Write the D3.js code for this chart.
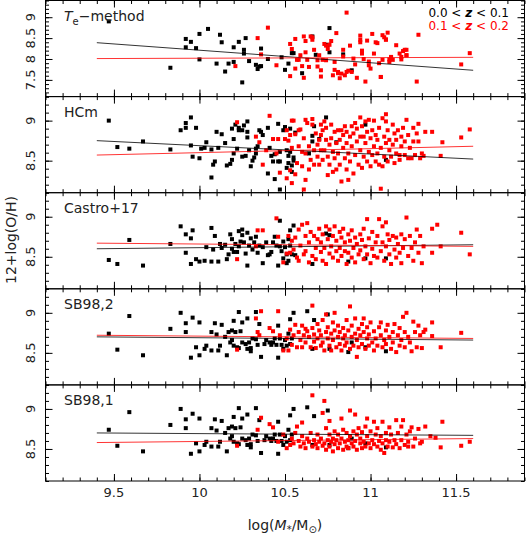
<!DOCTYPE html>
<html>
<head>
<meta charset="utf-8">
<script src="https://cdn.jsdelivr.net/npm/d3@7"></script>
<style>
  body { margin: 0; background: #fff; }
  text { font-family: "DejaVu Sans", sans-serif; fill: #222; }
</style>
</head>
<body>
<svg id="chart" width="528" height="535"></svg>
<script>
// panels, top to bottom
var panelNames = ["Te-method", "HCm", "Castro+17", "SB98,2", "SB98,1"];
var yDomains = [[7.1, 9.4], [8.1, 9.3], [8.1, 9.3], [8.1, 9.3], [8.1, 9.3]];
var yTickLabels = [[7.5, 8, 8.5, 9], [8.5, 9], [8.5, 9], [8.5, 9], [8.5, 9]];
var xTickLabels = [9.5, 10, 10.5, 11, 11.5];
var legendText = ["0.0 < z < 0.1", "0.1 < z < 0.2"];

// linear fits, value at logM = 9.4 and 11.6
var fitRange = [9.4, 11.6];
var fitBlack = [[8.39, 7.73], [8.75, 8.52], [8.60, 8.65], [8.70, 8.66], [8.70, 8.67]];
var fitRed = [[8.01, 8.04], [8.57, 8.68], [8.67, 8.63], [8.72, 8.68], [8.58, 8.63]];

// 0.0 < z < 0.1 (black), 0.1 < z < 0.2 (red)  -- [logM, 12+log(O/H)]
var teBlack = [[9.47,8.90],[9.83,7.79],[9.92,8.48],[9.92,8.28],[9.95,8.41],[9.98,8.26],[10.00,8.60],[10.00,7.99],[10.05,8.72],[10.10,7.89],[10.12,8.58],[10.13,8.40],[10.15,7.70],[10.17,7.89],[10.20,8.28],[10.20,7.93],[10.23,8.41],[10.25,7.44],[10.26,8.22],[10.26,8.13],[10.27,8.50],[10.29,7.95],[10.33,7.86],[10.34,7.76],[10.35,7.82],[10.36,7.83],[10.36,8.25],[10.40,8.00],[10.48,8.04],[10.50,7.74],[10.52,7.89],[10.54,8.14],[10.55,8.14],[10.60,7.66],[10.66,8.54],[10.68,8.10],[10.75,8.34],[10.76,8.74],[10.76,8.16],[10.84,8.11],[10.89,7.73]];
var teRed = [[10.21,7.83],[10.34,8.50],[10.36,8.11],[10.40,8.75],[10.45,7.85],[10.53,7.59],[10.53,8.36],[10.54,8.24],[10.56,8.48],[10.56,7.77],[10.57,7.98],[10.58,7.98],[10.59,8.09],[10.60,7.83],[10.61,7.55],[10.61,8.54],[10.62,8.16],[10.62,8.43],[10.63,7.98],[10.64,7.81],[10.65,8.54],[10.66,8.52],[10.66,8.46],[10.67,8.22],[10.69,7.97],[10.69,7.82],[10.70,8.09],[10.71,7.73],[10.71,7.58],[10.72,7.98],[10.73,8.36],[10.74,8.32],[10.75,8.24],[10.74,7.97],[10.76,8.34],[10.77,8.43],[10.78,7.61],[10.79,7.74],[10.79,7.93],[10.80,8.62],[10.81,7.69],[10.81,7.66],[10.82,7.54],[10.83,7.65],[10.84,8.22],[10.84,8.06],[10.85,7.61],[10.86,7.69],[10.86,9.11],[10.87,7.72],[10.88,8.32],[10.89,7.69],[10.90,8.01],[10.91,7.87],[10.92,7.55],[10.94,8.56],[10.94,8.40],[10.94,8.46],[10.95,8.13],[10.95,8.20],[10.96,8.00],[10.97,7.46],[10.98,8.44],[10.99,7.94],[10.99,7.85],[11.00,7.77],[11.01,8.60],[11.02,8.13],[11.03,8.40],[11.04,8.38],[11.05,7.90],[11.06,7.57],[11.06,7.57],[11.07,8.57],[11.07,7.98],[11.08,8.52],[11.09,8.46],[11.09,8.47],[11.10,8.63],[11.11,7.99],[11.11,7.93],[11.12,8.05],[11.12,8.03],[11.13,7.98],[11.15,8.33],[11.17,8.13],[11.18,7.99],[11.18,8.05],[11.19,8.19],[11.20,8.22],[11.21,8.22],[11.21,8.09],[11.21,8.09],[11.27,7.46],[11.28,8.58],[11.53,7.87],[11.58,8.14]];

var hcmBlack = [[9.47,9.00],[9.52,8.67],[9.59,8.65],[9.67,8.74],[9.83,8.64],[9.89,8.88],[9.92,8.91],[9.92,8.97],[9.95,9.04],[9.98,8.91],[9.95,8.69],[9.96,8.55],[10.00,8.53],[10.01,8.65],[10.03,8.66],[10.04,8.73],[10.07,8.29],[10.08,8.45],[10.09,8.49],[10.07,8.64],[10.10,8.86],[10.11,8.66],[10.13,8.83],[10.15,8.72],[10.16,8.44],[10.18,8.46],[10.19,8.51],[10.19,8.90],[10.20,8.77],[10.20,8.59],[10.21,8.95],[10.22,8.65],[10.23,8.88],[10.23,8.91],[10.25,8.88],[10.25,8.55],[10.26,8.94],[10.27,8.56],[10.28,8.99],[10.28,8.86],[10.28,8.79],[10.29,8.63],[10.30,8.43],[10.31,8.50],[10.32,8.54],[10.33,8.59],[10.33,8.65],[10.34,8.68],[10.35,8.88],[10.36,8.86],[10.37,8.82],[10.40,8.91],[10.40,8.34],[10.41,8.66],[10.42,8.56],[10.43,8.49],[10.44,8.27],[10.44,8.58],[10.46,8.96],[10.46,8.49],[10.47,8.14],[10.47,8.49],[10.47,8.61],[10.49,8.88],[10.50,8.90],[10.50,8.92],[10.51,8.41],[10.51,8.63],[10.52,8.56],[10.52,8.47],[10.53,8.90],[10.53,8.61],[10.54,8.36],[10.54,8.44],[10.55,8.54],[10.55,8.50],[10.56,8.85],[10.64,8.59],[10.66,8.81],[10.66,8.74],[10.67,8.93],[10.70,8.77],[10.74,9.04],[10.80,8.73],[10.97,8.95],[11.09,8.51]];
var hcmRed = [[10.22,8.98],[10.41,9.06],[10.33,8.80],[10.35,8.73],[10.37,8.45],[10.39,8.63],[10.43,8.77],[10.45,8.59],[10.46,8.77],[10.47,8.35],[10.50,8.77],[10.51,8.88],[10.51,8.28],[10.52,8.75],[10.53,8.38],[10.53,8.82],[10.54,9.00],[10.54,8.22],[10.54,8.66],[10.55,9.00],[10.56,8.33],[10.56,8.83],[10.57,8.47],[10.58,8.68],[10.58,8.88],[10.59,8.89],[10.60,8.43],[10.60,8.61],[10.61,8.14],[10.61,8.78],[10.62,8.59],[10.62,9.01],[10.62,8.26],[10.63,8.97],[10.64,8.68],[10.64,8.39],[10.65,8.51],[10.66,9.02],[10.66,8.95],[10.67,8.63],[10.67,8.45],[10.68,8.84],[10.69,8.70],[10.69,8.55],[10.70,8.76],[10.70,8.45],[10.71,8.63],[10.71,8.95],[10.71,8.82],[10.72,8.51],[10.72,8.88],[10.73,8.99],[10.73,8.63],[10.74,8.76],[10.74,8.91],[10.75,8.55],[10.75,8.32],[10.76,8.70],[10.76,8.45],[10.77,8.95],[10.77,8.78],[10.78,8.61],[10.78,8.36],[10.79,8.86],[10.79,8.53],[10.80,8.72],[10.80,8.39],[10.81,8.88],[10.81,8.59],[10.82,8.76],[10.82,8.45],[10.83,8.24],[10.83,8.88],[10.84,8.66],[10.84,8.82],[10.85,8.53],[10.85,8.93],[10.86,8.39],[10.86,8.72],[10.86,8.86],[10.87,8.59],[10.87,8.26],[10.88,8.80],[10.88,8.49],[10.89,8.93],[10.89,8.68],[10.90,8.84],[10.90,8.34],[10.91,8.97],[10.91,8.57],[10.92,8.74],[10.92,8.90],[10.93,8.45],[10.94,8.80],[10.94,9.04],[10.94,8.63],[10.95,8.93],[10.95,8.41],[10.96,8.80],[10.96,8.55],[10.97,8.99],[10.97,8.72],[10.98,8.49],[10.98,8.86],[10.99,8.61],[10.99,9.01],[11.00,8.78],[11.00,8.43],[11.01,8.57],[11.01,8.88],[11.02,8.68],[11.02,9.00],[11.03,8.49],[11.03,8.82],[11.04,8.59],[11.04,8.76],[11.05,8.45],[11.05,8.91],[11.06,8.15],[11.06,8.66],[11.07,9.03],[11.07,8.43],[11.08,8.80],[11.08,8.55],[11.09,8.99],[11.09,8.72],[11.09,9.08],[11.10,8.49],[11.10,8.88],[11.11,8.63],[11.11,8.76],[11.12,8.55],[11.13,8.95],[11.13,8.70],[11.14,8.84],[11.14,8.47],[11.15,8.59],[11.15,8.76],[11.16,8.88],[11.17,8.57],[11.17,8.51],[11.18,8.80],[11.18,8.68],[11.19,8.91],[11.20,8.57],[11.20,8.74],[11.21,9.01],[11.22,8.53],[11.22,8.82],[11.23,8.66],[11.24,8.53],[11.25,8.91],[11.25,8.74],[11.26,8.57],[11.27,8.84],[11.28,8.96],[11.28,8.74],[11.29,8.53],[11.30,8.59],[11.31,8.56],[11.32,8.86],[11.36,8.86],[11.41,8.56],[11.42,8.73],[11.53,8.79],[11.58,8.89]];

var castroBlack = [[9.47,8.46],[9.52,8.41],[9.59,8.71],[9.67,8.39],[9.83,8.66],[9.89,8.88],[9.92,8.55],[9.92,8.78],[9.95,8.73],[9.95,8.41],[9.96,8.83],[9.98,8.47],[10.00,8.44],[10.03,8.45],[10.04,8.62],[10.07,8.86],[10.07,8.44],[10.08,8.59],[10.09,8.76],[10.11,8.44],[10.12,8.66],[10.13,8.61],[10.15,8.65],[10.16,8.47],[10.17,8.53],[10.18,8.78],[10.19,8.60],[10.19,8.72],[10.20,8.56],[10.21,8.66],[10.22,8.56],[10.23,8.82],[10.23,8.63],[10.24,8.69],[10.25,8.84],[10.25,8.77],[10.26,8.68],[10.27,8.54],[10.28,8.80],[10.28,8.39],[10.29,8.64],[10.30,8.73],[10.31,8.59],[10.32,8.68],[10.33,8.75],[10.34,8.55],[10.35,8.64],[10.37,8.42],[10.37,8.62],[10.39,8.68],[10.40,8.52],[10.41,8.53],[10.42,8.56],[10.43,8.68],[10.44,8.75],[10.45,8.64],[10.46,8.39],[10.47,8.95],[10.47,8.63],[10.48,8.57],[10.49,8.48],[10.49,8.69],[10.50,8.62],[10.51,8.53],[10.51,8.42],[10.52,8.72],[10.52,8.45],[10.53,8.83],[10.53,8.64],[10.54,8.53],[10.55,8.89],[10.56,8.52],[10.66,8.41],[10.74,8.79],[10.76,8.77],[10.87,8.44],[10.97,8.48],[11.09,8.48]];
var castroRed = [[10.34,8.83],[10.37,8.83],[10.22,8.47],[10.33,8.63],[10.45,8.98],[10.46,8.75],[10.49,8.43],[10.51,8.54],[10.52,8.76],[10.53,8.55],[10.54,8.70],[10.55,8.59],[10.56,8.74],[10.57,8.49],[10.58,8.84],[10.58,8.45],[10.59,8.64],[10.60,8.90],[10.61,8.53],[10.62,8.76],[10.62,8.57],[10.63,8.92],[10.64,8.43],[10.64,8.68],[10.65,8.81],[10.66,8.51],[10.67,8.76],[10.68,8.61],[10.68,8.47],[10.69,8.72],[10.70,8.85],[10.71,8.56],[10.71,8.68],[10.72,8.45],[10.72,8.78],[10.73,8.61],[10.74,8.88],[10.74,8.41],[10.75,8.72],[10.76,8.54],[10.76,8.84],[10.77,8.63],[10.78,8.49],[10.78,8.76],[10.79,8.88],[10.80,8.57],[10.80,8.70],[10.81,8.45],[10.82,8.81],[10.82,8.61],[10.83,8.51],[10.83,8.74],[10.84,8.85],[10.85,8.57],[10.85,8.68],[10.86,8.41],[10.87,8.78],[10.87,8.55],[10.88,8.70],[10.89,8.49],[10.89,8.83],[10.90,8.61],[10.91,8.74],[10.91,8.43],[10.92,8.66],[10.93,8.53],[10.94,8.78],[10.94,8.58],[10.95,8.71],[10.96,8.47],[10.96,8.85],[10.97,8.63],[10.98,8.97],[10.98,8.53],[10.99,8.73],[11.00,8.42],[11.01,8.60],[11.01,8.81],[11.02,8.51],[11.03,8.68],[11.04,8.49],[11.04,8.76],[11.05,8.97],[11.06,8.57],[11.07,8.88],[11.07,8.68],[11.08,8.45],[11.09,8.93],[11.09,8.63],[11.10,8.78],[11.11,8.53],[11.11,8.71],[11.12,8.41],[11.13,8.76],[11.14,8.59],[11.15,8.49],[11.15,8.74],[11.16,8.66],[11.17,8.55],[11.18,8.42],[11.18,8.78],[11.19,8.61],[11.20,8.72],[11.21,8.99],[11.22,8.51],[11.23,8.76],[11.24,8.61],[11.25,8.45],[11.26,8.68],[11.27,8.84],[11.28,8.55],[11.29,8.76],[11.30,8.42],[11.31,8.63],[11.36,8.55],[11.36,8.85],[11.39,8.90],[11.41,8.63],[11.53,8.80],[11.58,8.53]];

var sb2Black = [[9.47,8.74],[9.52,8.54],[9.59,8.96],[9.67,8.47],[9.83,8.80],[9.89,9.00],[9.92,8.87],[9.92,8.76],[9.96,8.94],[9.95,8.44],[9.98,8.57],[10.00,8.88],[10.00,8.47],[10.03,8.55],[10.04,8.59],[10.07,8.76],[10.07,8.53],[10.09,8.87],[10.10,8.73],[10.11,8.53],[10.12,8.59],[10.13,8.85],[10.15,8.70],[10.16,8.47],[10.17,8.76],[10.18,8.63],[10.19,8.78],[10.19,8.66],[10.20,8.90],[10.20,8.59],[10.21,8.76],[10.22,8.57],[10.23,9.01],[10.23,8.56],[10.24,8.77],[10.25,8.88],[10.25,8.63],[10.27,8.61],[10.28,8.55],[10.28,8.93],[10.29,8.63],[10.30,8.56],[10.30,8.52],[10.31,8.68],[10.33,9.01],[10.33,8.67],[10.34,8.60],[10.35,8.86],[10.36,8.45],[10.38,8.61],[10.39,8.66],[10.41,8.63],[10.42,8.60],[10.43,8.63],[10.44,8.68],[10.45,8.60],[10.46,8.84],[10.46,8.44],[10.47,8.68],[10.48,8.60],[10.49,8.55],[10.50,8.66],[10.51,8.59],[10.52,8.74],[10.53,8.92],[10.53,8.61],[10.54,8.68],[10.55,9.00],[10.63,9.02],[10.66,8.55],[10.67,8.91],[10.75,8.98],[10.76,8.55],[10.87,8.51],[10.89,8.63],[10.97,8.57],[11.09,8.52]];
var sb2Red = [[10.22,8.54],[10.33,8.93],[10.36,9.02],[10.34,8.76],[10.35,8.72],[10.41,8.81],[10.43,8.77],[10.46,9.02],[10.47,8.72],[10.49,8.53],[10.51,8.68],[10.52,8.53],[10.53,8.79],[10.54,8.60],[10.55,8.72],[10.56,8.85],[10.57,8.57],[10.58,8.76],[10.59,8.66],[10.60,8.84],[10.60,8.57],[10.61,8.72],[10.62,8.80],[10.62,8.63],[10.63,8.77],[10.64,8.70],[10.65,8.57],[10.66,9.09],[10.66,8.81],[10.67,8.64],[10.67,8.73],[10.68,8.56],[10.69,8.86],[10.69,8.68],[10.70,8.78],[10.71,8.59],[10.71,8.72],[10.72,8.91],[10.72,8.63],[10.73,8.53],[10.74,8.76],[10.74,8.98],[10.75,8.68],[10.75,8.82],[10.76,8.59],[10.77,8.74],[10.77,8.53],[10.78,8.88],[10.78,8.66],[10.79,9.00],[10.79,8.78],[10.80,8.57],[10.81,8.70],[10.81,8.84],[10.82,8.61],[10.82,8.76],[10.83,8.53],[10.84,8.68],[10.84,8.81],[10.85,8.59],[10.85,8.72],[10.86,8.91],[10.86,8.63],[10.87,8.78],[10.88,8.55],[10.88,9.08],[10.89,8.70],[10.89,8.84],[10.90,8.59],[10.91,8.74],[10.91,8.93],[10.92,8.45],[10.92,8.66],[10.93,8.80],[10.93,8.57],[10.94,8.72],[10.95,8.86],[10.95,8.61],[10.96,8.76],[10.96,8.93],[10.97,8.55],[10.98,8.68],[10.98,8.82],[10.99,8.59],[10.99,8.73],[11.00,8.88],[11.01,8.63],[11.02,8.53],[11.02,8.77],[11.03,8.68],[11.04,8.59],[11.05,8.82],[11.06,8.72],[11.06,8.88],[11.07,8.57],[11.08,8.66],[11.09,8.78],[11.09,8.61],[11.10,8.85],[11.11,8.70],[11.12,8.55],[11.13,8.76],[11.13,8.63],[11.14,8.86],[11.15,8.51],[11.16,8.72],[11.17,8.59],[11.17,8.81],[11.18,8.66],[11.19,8.95],[11.20,8.76],[11.20,8.57],[11.21,9.00],[11.22,8.70],[11.23,8.63],[11.24,8.52],[11.25,8.89],[11.26,8.76],[11.27,8.57],[11.28,8.84],[11.29,8.72],[11.30,8.56],[11.31,8.76],[11.32,8.79],[11.36,8.88],[11.36,8.71],[11.41,8.57],[11.53,8.75]];

var sb1Black = [[9.47,8.74],[9.52,8.54],[9.59,8.96],[9.67,8.47],[9.83,8.80],[9.89,9.00],[9.92,8.87],[9.92,8.76],[9.96,8.94],[9.95,8.44],[9.98,8.57],[10.00,8.88],[10.00,8.47],[10.03,8.55],[10.04,8.59],[10.07,8.76],[10.07,8.53],[10.09,8.87],[10.10,8.73],[10.11,8.53],[10.12,8.59],[10.13,8.85],[10.15,8.70],[10.16,8.47],[10.17,8.76],[10.18,8.63],[10.19,8.78],[10.19,8.66],[10.20,8.90],[10.20,8.59],[10.21,8.76],[10.22,8.57],[10.23,9.01],[10.23,8.56],[10.24,8.77],[10.25,8.88],[10.25,8.63],[10.27,8.61],[10.28,8.55],[10.28,8.93],[10.29,8.63],[10.30,8.56],[10.30,8.52],[10.31,8.68],[10.33,9.01],[10.33,8.67],[10.34,8.60],[10.35,8.86],[10.36,8.45],[10.38,8.61],[10.39,8.66],[10.41,8.63],[10.42,8.60],[10.43,8.63],[10.44,8.68],[10.45,8.60],[10.46,8.84],[10.46,8.44],[10.47,8.68],[10.48,8.60],[10.49,8.55],[10.50,8.66],[10.51,8.59],[10.52,8.74],[10.53,8.92],[10.53,8.61],[10.54,8.68],[10.55,9.00],[10.63,9.02],[10.66,8.55],[10.67,8.91],[10.75,8.98],[10.76,8.55],[10.87,8.51],[10.89,8.63],[10.97,8.57],[11.09,8.52]];
var sb1Red = [[10.22,8.54],[10.36,8.89],[10.34,8.74],[10.41,8.81],[10.43,8.77],[10.46,8.59],[10.49,8.68],[10.51,8.51],[10.53,8.55],[10.54,8.63],[10.55,8.57],[10.56,8.70],[10.57,8.78],[10.58,8.60],[10.59,8.53],[10.60,8.66],[10.60,8.83],[10.61,8.57],[10.62,8.51],[10.63,8.63],[10.64,8.59],[10.65,8.70],[10.66,9.17],[10.66,8.53],[10.67,8.61],[10.68,8.56],[10.69,8.68],[10.69,8.51],[10.70,8.59],[10.71,8.63],[10.72,8.54],[10.72,8.95],[10.73,8.57],[10.73,9.10],[10.74,8.76],[10.74,8.49],[10.75,8.61],[10.76,8.68],[10.76,8.85],[10.76,8.53],[10.77,8.59],[10.78,8.63],[10.78,8.47],[10.79,8.72],[10.79,8.56],[10.80,8.61],[10.81,8.51],[10.81,8.68],[10.82,8.57],[10.83,8.88],[10.83,8.63],[10.84,8.49],[10.84,8.74],[10.85,8.59],[10.86,8.53],[10.86,8.70],[10.87,8.61],[10.87,8.51],[10.88,8.98],[10.88,8.66],[10.89,8.57],[10.90,8.72],[10.90,8.53],[10.91,8.93],[10.91,8.60],[10.92,8.68],[10.92,8.49],[10.93,8.76],[10.94,8.57],[10.94,8.63],[10.95,8.51],[10.95,8.71],[10.96,8.59],[10.97,8.78],[10.97,8.53],[10.98,8.88],[10.98,8.66],[10.99,8.57],[11.00,8.72],[11.00,8.51],[11.01,8.61],[11.02,8.84],[11.02,8.56],[11.03,8.68],[11.04,8.53],[11.04,8.76],[11.05,8.60],[11.06,8.66],[11.06,8.49],[11.07,8.84],[11.07,8.57],[11.08,8.45],[11.09,8.70],[11.09,8.61],[11.10,8.53],[11.11,8.77],[11.11,8.59],[11.12,8.68],[11.13,8.52],[11.14,8.61],[11.15,8.86],[11.15,8.56],[11.16,8.70],[11.17,8.51],[11.18,8.78],[11.18,8.61],[11.19,8.86],[11.20,8.55],[11.21,8.68],[11.22,8.59],[11.22,8.53],[11.23,8.72],[11.24,8.77],[11.25,8.53],[11.26,8.63],[11.28,8.75],[11.29,8.57],[11.30,8.59],[11.32,8.78],[11.35,8.66],[11.38,8.64],[11.41,8.52],[11.42,8.84],[11.53,8.54],[11.58,8.59]];

var blackSets = [teBlack, hcmBlack, castroBlack, sb2Black, sb1Black];
var redSets = [teRed, hcmRed, castroRed, sb2Red, sb1Red];

var svg = d3.select("#chart");
var left = 45.5, right = 524.5, top0 = 0.5, ph = 96.1;
var red = "#ff0000";

var x = d3.scaleLinear().domain([9.1, 11.9]).range([left, right]);
var xMinor = d3.range(91, 120).map(function(d) { return d / 10; });

function drawPanel(i) {
    var t = top0 + i * ph, b = t + ph;
    var y = d3.scaleLinear().domain(yDomains[i]).range([b, t]);
    var g = svg.append("g");
    var dom = yDomains[i];
    var yMinor = d3.range(Math.round(dom[0] * 10), Math.round(dom[1] * 10) + 1).map(function(d) { return d / 10; });

    // inward ticks on all four sides
    function tickAxis(axis, size, vals, tr) {
        var a = g.append("g").attr("transform", tr)
            .call(axis.tickValues(vals).tickSize(size).tickFormat(""));
        a.select(".domain").remove();
        a.selectAll("line").attr("stroke", "#000").attr("stroke-width", 1);
    }
    tickAxis(d3.axisBottom(x), -3.5, xMinor, "translate(0," + b + ")");
    tickAxis(d3.axisBottom(x), -7, xTickLabels, "translate(0," + b + ")");
    tickAxis(d3.axisTop(x), -3.5, xMinor, "translate(0," + t + ")");
    tickAxis(d3.axisTop(x), -7, xTickLabels, "translate(0," + t + ")");
    tickAxis(d3.axisLeft(y), -3.5, yMinor, "translate(" + left + ",0)");
    tickAxis(d3.axisLeft(y), -7, yTickLabels[i], "translate(" + left + ",0)");
    tickAxis(d3.axisRight(y), -3.5, yMinor, "translate(" + right + ",0)");
    tickAxis(d3.axisRight(y), -7, yTickLabels[i], "translate(" + right + ",0)");

    g.append("rect")
        .attr("x", left).attr("y", t)
        .attr("width", right - left).attr("height", ph)
        .attr("fill", "none").attr("stroke", "#000").attr("stroke-width", 1);

    // y tick labels, rotated
    g.selectAll(".ylab").data(yTickLabels[i]).enter().append("text")
        .attr("transform", function(d) { return "translate(35," + y(d) + ") rotate(-90)"; })
        .attr("text-anchor", "middle")
        .attr("font-size", 13)
        .text(function(d) { return String(d); });

    // points
    g.selectAll(".pb").data(blackSets[i]).enter().append("rect")
        .attr("x", function(d) { return x(d[0]) - 2; })
        .attr("y", function(d) { return y(d[1]) - 2; })
        .attr("width", 4).attr("height", 4)
        .attr("fill", "#000");
    g.selectAll(".pr").data(redSets[i]).enter().append("rect")
        .attr("x", function(d) { return x(d[0]) - 2; })
        .attr("y", function(d) { return y(d[1]) - 2; })
        .attr("width", 4).attr("height", 4)
        .attr("fill", red);

    // fits
    var line = d3.line().x(function(d) { return x(d[0]); }).y(function(d) { return y(d[1]); });
    g.append("path")
        .attr("d", line([[fitRange[0], fitBlack[i][0]], [fitRange[1], fitBlack[i][1]]]))
        .attr("stroke", "#000").attr("stroke-width", 0.8).attr("fill", "none");
    g.append("path")
        .attr("d", line([[fitRange[0], fitRed[i][0]], [fitRange[1], fitRed[i][1]]]))
        .attr("stroke", red).attr("stroke-width", 0.8).attr("fill", "none");

    // panel name
    var lab = g.append("text").attr("x", i == 0 ? 64 : 64).attr("y", t + 20).attr("font-size", 14);
    if (i == 0) {
        lab.append("tspan").attr("font-style", "italic").text("T");
        lab.append("tspan").attr("font-size", 10).attr("dy", 4).text("e");
        lab.append("tspan").attr("dy", -4).text("\u2212method");
    } else {
        lab.text(panelNames[i]);
    }
    return b;
}

var bottom;
for (var i = 0; i < panelNames.length; i++) bottom = drawPanel(i);

// x tick labels
svg.selectAll(".xlab").data(xTickLabels).enter().append("text")
    .attr("x", function(d) { return x(d); })
    .attr("y", bottom + 16)
    .attr("text-anchor", "middle")
    .attr("font-size", 13)
    .text(function(d) { return String(d); });

// legend
legendText.forEach(function(s, k) {
    var parts = s.split("z");
    var tx = svg.append("text").attr("x", 509).attr("y", 17 + k * 12.5)
        .attr("text-anchor", "end").attr("font-size", 12)
        .style("fill", k == 0 ? "#000" : red);
    tx.append("tspan").text(parts[0]);
    tx.append("tspan").attr("font-style", "italic").attr("font-weight", "bold").text("z");
    tx.append("tspan").text(parts[1]);
});

// axis titles
var xt = svg.append("text").attr("x", 285).attr("y", 530)
    .attr("text-anchor", "middle").attr("font-size", 14);
xt.append("tspan").text("log(");
xt.append("tspan").attr("font-style", "italic").text("M");
xt.append("tspan").attr("font-size", 10).attr("dy", 3).text("*");
xt.append("tspan").attr("dy", -3).text("/M");
xt.append("tspan").attr("font-size", 10).attr("dy", 3).text("\u2299");
xt.append("tspan").attr("dy", -3).text(")");

svg.append("text")
    .attr("transform", "translate(16,240) rotate(-90)")
    .attr("text-anchor", "middle")
    .attr("font-size", 14)
    .text("12+log(O/H)");
</script>
</body>
</html>
